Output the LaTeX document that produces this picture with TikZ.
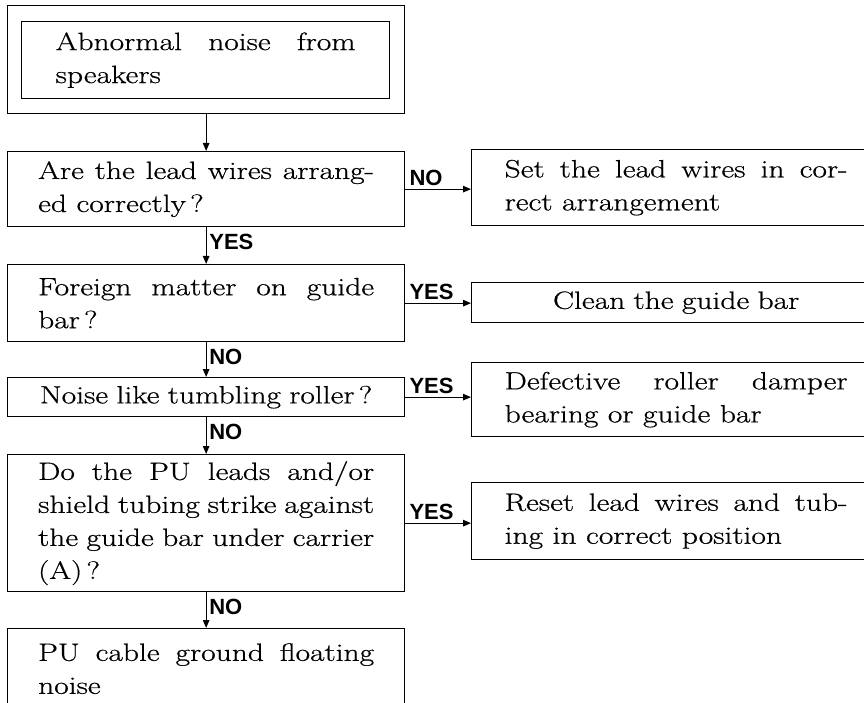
\documentclass[tikz,border=0pt]{standalone}
\usepackage{fontspec}
\setmainfont{Latin Modern Roman}[FakeStretch=1.26,FakeBold=0.6]
\newfontfamily\labfont{Liberation Sans}
\usetikzlibrary{arrows.meta}
\begin{document}
\begin{tikzpicture}[x=1pt,y=-1pt,
  box/.style={draw, line width=1.3pt, rectangle, anchor=north west, inner sep=0pt,
    font=\fontsize{25}{33}\selectfont, align=justify},
  qbox/.style={box, minimum width=397pt, text width=336pt},
  rbox/.style={box, minimum width=409pt, text width=343pt},
  conn/.style={line width=1.1pt, -{Triangle[length=8pt,width=6.5pt]}},
  lab/.style={font=\labfont\bfseries\fontsize{22}{22}\selectfont, inner sep=0pt}]
\clip (0,0) rectangle (864,703);
\fill[white] (0,0) rectangle (864,703);

% start
\node[box, minimum width=397pt, minimum height=108pt] (outer) at (7,5) {};
\node[box, minimum width=368pt, minimum height=77pt, text width=300pt] (start) at (21,21)
  {Abnormal noise from\linebreak speakers};

% questions
\node[qbox, minimum height=75pt] (q1) at (7,151) {Are the lead wires arrang-\linebreak ed correctly\,?};
\node[qbox, minimum height=77pt] (q2) at (7,264) {Foreign matter on guide\linebreak bar\,?};
\node[qbox, minimum height=39pt, align=center] (q3) at (7,377) {Noise like tumbling roller\,?};
\node[qbox, minimum height=137pt] (q4) at (7,454) {Do the PU leads and/or\linebreak shield tubing strike against\linebreak the guide bar under carrier\linebreak (A)\,?};
\node[qbox, minimum height=80pt] (q5) at (7,628) {PU cable ground floating\linebreak noise};

% results
\node[rbox, minimum height=76pt] (r1) at (471,149) {Set the lead wires in cor-\linebreak rect arrangement};
\node[rbox, minimum height=40pt, align=center] (r2) at (471,282) {Clean the guide bar};
\node[rbox, minimum height=74pt] (r3) at (471,362) {Defective roller damper\linebreak bearing or guide bar};
\node[rbox, minimum height=77pt] (r4) at (471,482) {Reset lead wires and tub-\linebreak ing in correct position};

% vertical connectors
\draw[conn] (outer.south) -- (q1.north);
\draw[conn] (q1.south) -- (q2.north);
\draw[conn] (q2.south) -- (q3.north);
\draw[conn] (q3.south) -- (q4.north);
\draw[conn] (q4.south) -- (q5.north);

% horizontal connectors
\draw[conn] (q1.east) -- (r1.west |- q1.east);
\draw[conn] (q2.east) -- (r2.west |- q2.east);
\draw[conn] (q3.east) -- (r2.west |- q3.east);
\draw[conn] (q4.east) -- (r4.west |- q4.east);

% labels
\node[lab, anchor=base west] (l1) at ([xshift=4pt,yshift=4pt]q1.east) {NO};
\node[lab, anchor=base west] (l2) at ([xshift=4pt,yshift=4pt]q2.east) {YES};
\node[lab, anchor=base west] (l3) at ([xshift=4pt,yshift=4pt]q3.east) {YES};
\node[lab, anchor=base west] (l4) at ([xshift=4pt,yshift=4pt]q4.east) {YES};
\node[lab, anchor=north west] (l5) at ([xshift=3pt,yshift=-7pt]q1.south) {YES};
\node[lab, anchor=north west] (l6) at ([xshift=3pt,yshift=-7pt]q2.south) {NO};
\node[lab, anchor=north west] (l7) at ([xshift=3pt,yshift=-7pt]q3.south) {NO};
\node[lab, anchor=north west] (l8) at ([xshift=3pt,yshift=-7pt]q4.south) {NO};
\end{tikzpicture}
\end{document}
